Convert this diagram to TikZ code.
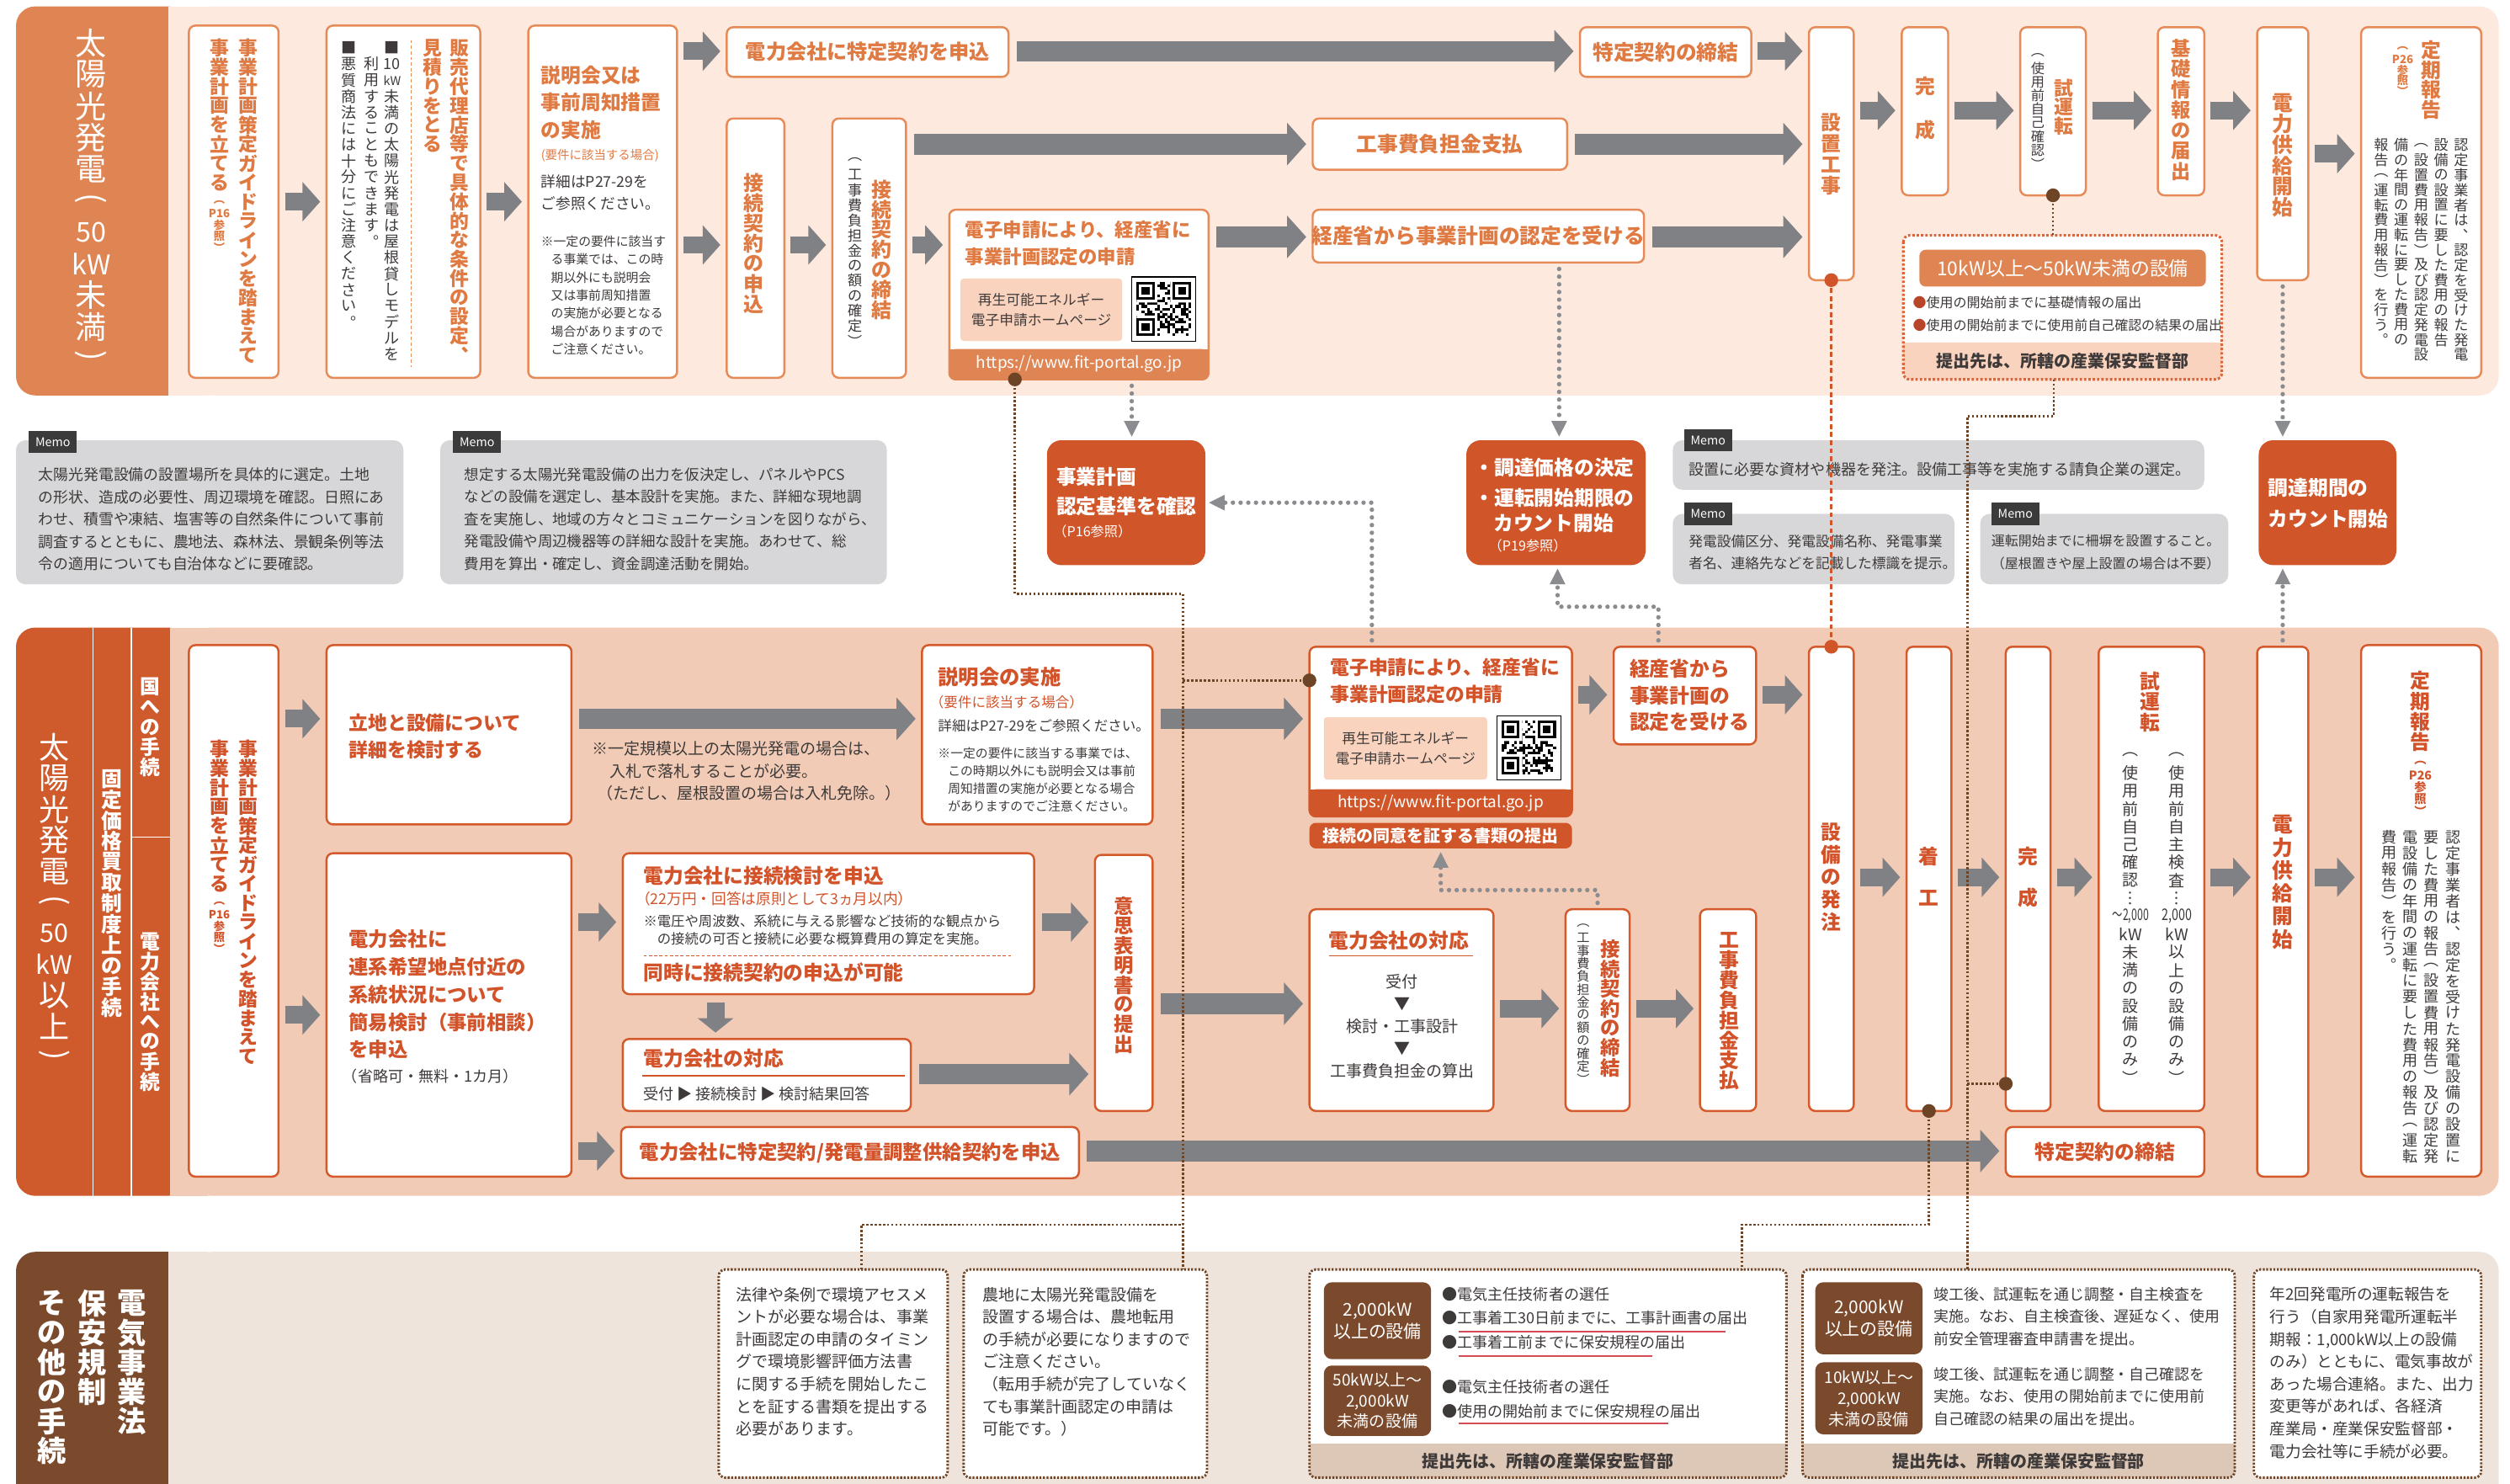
\documentclass[tikz,border=0pt]{standalone}
\usepackage{fontspec}
\usepackage{graphicx}
\setmainfont{Noto Sans CJK JP}
\usetikzlibrary{arrows.meta}
\definecolor{hA}{HTML}{DF8554}
\definecolor{bgA}{HTML}{FDE9DE}
\definecolor{lnA}{HTML}{E68B58}
\definecolor{txA}{HTML}{E07A43}
\definecolor{hB}{HTML}{CF5A2C}
\definecolor{bgB}{HTML}{F2CBB6}
\definecolor{lnB}{HTML}{D45A2B}
\definecolor{txB}{HTML}{D2532A}
\definecolor{hC}{HTML}{7B4A2C}
\definecolor{bgC}{HTML}{EFE4DB}
\definecolor{stC}{HTML}{DDC7B7}
\definecolor{gar}{HTML}{808185}
\definecolor{gdc}{HTML}{8B8C90}
\definecolor{memo}{HTML}{D7D7D9}
\definecolor{memotag}{HTML}{3C3B3B}
\definecolor{tg}{HTML}{3E3A39}
\definecolor{red1}{HTML}{D0562A}
\definecolor{pinkA}{HTML}{FAD3BF}
\definecolor{brn}{HTML}{6E4426}
\definecolor{ulc}{HTML}{D44A55}
\definecolor{bul}{HTML}{B8452A}
\definecolor{adc}{HTML}{D9673A}
\makeatletter
\newdimen\vt@p
\def\vt@endmark{\vt@end}
\newcommand\vt[2][1]{\vt@p=#1em\relax\vtop{\offinterlineskip\vt@loop#2\vt@end}}
\def\vt@loop#1{\def\vt@arg{#1}\ifx\vt@arg\vt@endmark\else\vt@item{#1}\expandafter\vt@loop\fi}
\def\vt@item#1{\hbox to 1em{\hss\vbox to \vt@p{\vss\hbox{#1}\vss}\hss}}
\makeatother
\newcommand\fz[2]{\fontsize{#1}{#2}\selectfont}
\newcommand\rp[1]{\rotatebox[origin=c]{-90}{#1}}
\newcommand\BX[6]{\node[#2,anchor=north west,minimum width={#5-#3},minimum height={#6-#4}] (#1) at (#3,#4) {};}
\newcommand\QR[4]{%
  \node[draw=black,line width=.6pt,fill=white,minimum width=40,minimum height=40,anchor=north west] (#1) at (#2,#3) {};
  \begin{scope}[shift={(#2+3,#3+3)},x=1.619pt,y=-1.619pt]
    \pgfmathsetseed{#4}
    \foreach \i in {0,...,20}{\foreach \j in {0,...,20}{%
      \pgfmathrandominteger{\qrr}{0}{1}%
      \ifnum\qrr=1 \fill (\i,\j) rectangle ++(1,1);\fi}}
    \fill[white] (0,0) rectangle (8,8) (13,0) rectangle (21,8) (0,13) rectangle (8,21);
    \foreach \a/\b in {0/0,14/0,0/14}{%
      \fill (\a,\b) rectangle ++(7,7);
      \fill[white] (\a+1,\b+1) rectangle ++(5,5);
      \fill (\a+2,\b+2) rectangle ++(3,3);}
  \end{scope}}
\tikzset{
  every node/.style={inner sep=0pt,outer sep=0pt},
  vn/.style={anchor=north},
  tl/.style={anchor=north west,align=left},
  bxA/.style={draw=lnA,fill=white,line width=1.3pt,rounded corners=4pt},
  bxB/.style={draw=lnB,fill=white,line width=1.3pt,rounded corners=4pt},
  rbx/.style={fill=red1,rounded corners=9pt},
  stripe/.style={fill=red1,rounded corners=4pt},
  memobx/.style={fill=memo,rounded corners=6pt},
  tagbx/.style={fill=memotag,text=white,font=\fz{7.5}{8},minimum width=30,minimum height=14,anchor=north west},
  pinkbx/.style={fill=pinkA,rounded corners=2pt},
  whitebx/.style={fill=white,rounded corners=4pt},
  lab/.style={fill=hC,rounded corners=5pt},
  hdr/.style={fill=hA,rounded corners=4pt},
  garr/.style={draw=gar,line width=11pt,-{Triangle[length=11pt,width=24pt]},shorten <=4pt,shorten >=4pt},
  gbar/.style={draw=gar,line width=13pt,-{Triangle[length=12pt,width=26pt]},shorten <=5pt,shorten >=4pt},
  gdot/.style={draw=gdc,line width=2.8pt,line cap=round,dash pattern=on 0pt off 4.8pt},
  gdarr/.style={gdot,-{Triangle[length=10pt,width=9pt]},shorten <=4pt,shorten >=2pt},
  brdot/.style={draw=brn,line width=1.4pt,dash pattern=on 1.3pt off 1.3pt},
  ordash/.style={draw=red1,line width=1.5pt,dash pattern=on 3pt off 2pt},
  cdash/.style={draw=brn,line width=1.5pt,dash pattern=on 1.2pt off 1pt,rounded corners=4pt},
  adash/.style={draw=adc,line width=1.6pt,dash pattern=on 1.5pt off 1.2pt,rounded corners=4pt},
}
\begin{document}
\begin{tikzpicture}[x=1pt,y=-1pt]
\useasboundingbox (0,0) rectangle (1568,927);
% ================= bands
\fill[hA,rounded corners=12pt] (10,4) rectangle (117,247);
\fill[bgA] (105,4) rectangle (130,247);
\fill[bgA,rounded corners=12pt] (120,4) rectangle (1561,247);
\fill[hB,rounded corners=12pt] (10,392) rectangle (117,747);
\fill[bgB] (106,392) rectangle (130,747);
\fill[bgB,rounded corners=12pt] (120,392) rectangle (1561,747);
\draw[white,line width=.8pt] (58,392)--(58,747) (82,392)--(82,747) (82,523)--(106,523);
\fill[hC,rounded corners=12pt] (10,782) rectangle (117,960);
\fill[bgC] (105,782) rectangle (130,960);
\fill[bgC,rounded corners=12pt] (120,782) rectangle (1561,960);
% header texts
\node[vn,text=white,font=\fz{19.5}{19.5}] (hAt) at (57,17) {\vt[1.01]{太陽光発電{\rp{(}}{\fz{17}{17}50}{\fz{17}{17}kW}未満{\rp{)}}}};
\node[vn,text=white,font=\fz{19}{19}] (hBt) at (34,457) {\vt[1.02]{太陽光発電{\rp{(}}{\fz{16}{16}50}{\fz{16}{16}kW}以上{\rp{)}}}};
\node[vn,text=white,font=\bfseries\fz{13}{13}] (hBt2) at (70,480) {\vt{固定価格買取制度上の手続}};
\node[vn,text=white,font=\bfseries\fz{12.5}{12.5}] (hBt3) at (94,423) {\vt{国への手続}};
\node[vn,text=white,font=\bfseries\fz{12.5}{12.5}] (hBt4) at (94,582) {\vt{電力会社への手続}};
\node[vn,text=white,font=\bfseries\fz{18}{18}] (hCt1) at (82.5,805) {\vt[1.02]{電気事業法}};
\node[vn,text=white,font=\bfseries\fz{18}{18}] (hCt2) at (57.5,805) {\vt[1.02]{保安規制}};
\node[vn,text=white,font=\bfseries\fz{18}{18}] (hCt3) at (32.5,805) {\vt[1.02]{その他の手続}};
% ================= band A boxes
\BX{A1}{bxA}{118}{16}{174}{236}
\node[vn,text=txA,font=\bfseries\fz{12}{12}] (A1a) at (155,24) {\vt{事業計画策定ガイドラインを踏まえて}};
\node[vn,text=txA,font=\bfseries\fz{12}{12}] (A1b) at (137,24) {\vt{事業計画を立てる}};
\node[vn,text=txA,font=\bfseries\fz{7}{7}] (A1c) at (137,123) {\vt{︵{P16}参照︶}};
\BX{A2}{bxA}{204}{16}{300}{236}
\node[vn,text=txA,font=\bfseries\fz{12}{12}] (A2a) at (287,24) {\vt{販売代理店等で具体的な条件の設定︑}};
\node[vn,text=txA,font=\bfseries\fz{12}{12}] (A2b) at (270,24) {\vt{見積りをとる}};
\draw[lnA,line width=.6pt,dash pattern=on 2pt off 1.5pt] (257,25)--(257,229);
\node[vn,text=tg,font=\fz{9.5}{9.5}] (A2c) at (245,25) {\vt[1.06]{■{10}{\scalebox{.8}{kW}}未満の太陽光発電は屋根貸しモデルを}};
\node[vn,text=tg,font=\fz{9.5}{9.5}] (A2d) at (232,35) {\vt[1.06]{利用することもできます︒}};
\node[vn,text=tg,font=\fz{9.5}{9.5}] (A2e) at (218,25) {\vt[1.06]{■悪質商法には十分にご注意ください︒}};
\BX{A3}{bxA}{330}{16}{423}{236}
\node[tl,text=txA,font=\bfseries\fz{12.5}{17}] (A3a) at (338,41) {説明会又は\\事前周知措置\\の実施};
\node[tl,text=txA,font=\fz{7.6}{9}] (A3b) at (338,93) {(要件に該当する場合)};
\node[tl,text=tg,font=\fz{9.3}{14}] (A3c) at (338,109) {詳細はP27-29を\\ご参照ください。};
\node[tl,text=tg,font=\fz{7.8}{11.3}] (A3d) at (338,147) {※一定の要件に該当す\\\hspace*{.8em}る事業では、この時\\\hspace*{.8em}期以外にも説明会\\\hspace*{.8em}又は事前周知措置\\\hspace*{.8em}の実施が必要となる\\\hspace*{.8em}場合がありますので\\\hspace*{.8em}ご注意ください。};
\BX{A4}{bxA}{454}{17}{630}{48}
\node[text=txA,font=\bfseries\fz{12.7}{13}] (A4t) at (A4.center) {電力会社に特定契約を申込};
\BX{A5}{bxA}{454}{74}{490}{236}
\node[vn,text=txA,font=\bfseries\fz{12.6}{12.6}] (A5t) at (471,108) {\vt{接続契約の申込}};
\BX{A7}{bxA}{520}{74}{566}{236}
\node[vn,text=txA,font=\bfseries\fz{12.6}{12.6}] (A7a) at (551,112) {\vt{接続契約の締結}};
\node[vn,text=tg,font=\fz{9}{9}] (A7b) at (534,95) {\vt[1.05]{︵工事費負担金の額の確定︶}};
\BX{A8}{bxA}{820}{74}{979}{106}
\node[text=txA,font=\bfseries\fz{13}{13}] (A8t) at (A8.center) {工事費負担金支払};
\BX{A9}{bxA}{593}{131}{755}{237}
\fill[hA,rounded corners=4pt] (593,218) rectangle (755,237.5);
\fill[hA] (593,218) rectangle (755,226);
\node[text=white,font=\fz{10}{10}] (A9u) at (674,227.5) {https://www.fit-portal.go.jp};
\node[tl,text=txA,font=\bfseries\fz{11.8}{17}] (A9a) at (603,138) {電子申請により、経産省に\\事業計画認定の申請};
\BX{A9p}{pinkbx}{600}{174}{701}{213}
\node[text=tg,font=\fz{8.8}{13},align=center] (A9pt) at (A9p.center) {再生可能エネルギー\\電子申請ホームページ};
\QR{A9q}{707}{173}{3}
\BX{A11}{bxA}{820}{131}{1027}{164}
\node[text=txA,font=\bfseries\fz{13}{13}] (A11t) at (A11.center) {経産省から事業計画の認定を受ける};
\BX{A6}{bxA}{987}{17}{1094}{48}
\node[text=txA,font=\bfseries\fz{13}{13}] (A6t) at (A6.center) {特定契約の締結};
\BX{A10}{bxA}{1130}{17}{1158}{175}
\node[vn,text=txA,font=\bfseries\fz{12.5}{12.5}] (A10t) at (1144,70) {\vt[1.05]{設置工事}};
\BX{A12}{bxA}{1188}{17}{1217}{122}
\node[vn,text=txA,font=\bfseries\fz{12.5}{12.5}] (A12t) at (1202.5,40.5) {\vt[2.16]{完成}};
\BX{A13}{bxA}{1262}{17}{1303}{122}
\node[vn,text=txA,font=\bfseries\fz{12}{12}] (A13a) at (1289,49) {\vt{試運転}};
\node[vn,text=tg,font=\fz{8.5}{8.5}] (A13b) at (1273,30) {\vt{︵使用前自己確認︶}};
\BX{A14}{bxA}{1348}{17}{1377}{122}
\node[vn,text=txA,font=\bfseries\fz{12.2}{12.2}] (A14t) at (1362.5,24) {\vt[1.05]{基礎情報の届出}};
\BX{A15}{bxA}{1410}{17}{1442}{175}
\node[vn,text=txA,font=\bfseries\fz{13}{13}] (A15t) at (1426,58) {\vt{電力供給開始}};
\BX{A16}{bxA}{1475}{17}{1550}{236}
\node[vn,text=txA,font=\bfseries\fz{12.5}{12.5}] (A16a) at (1519,25) {\vt{定期報告}};
\node[vn,text=txA,font=\bfseries\fz{7}{7}] (A16b) at (1501,27) {\vt[0.95]{︵{P26}参照︶}};
\node[anchor=north east,text=tg,font=\fz{9}{9}] (A16d) at (1542,86) {\hbox{\vt[1.04]{報告︵運転費用報告︶を行う︒}\hskip3.5pt\vt[1.04]{備の年間の運転に要した費用の}\hskip3.5pt\vt[1.04]{︵設置費用報告︶及び認定発電設}\hskip3.5pt\vt[1.04]{設備の設置に要した費用の報告}\hskip3.5pt\vt[1.04]{認定事業者は︑認定を受けた発電}}};
% dotted info box
\BX{AD}{whitebx}{1189}{147}{1388}{237}
\fill[pinkA,rounded corners=4pt] (1189,214) rectangle (1388,237);
\fill[pinkA] (1189,214) rectangle (1388,222);
\BX{ADh}{hdr}{1199}{156}{1378}{179}
\node[text=white,font=\fz{12}{12}] (ADht) at (ADh.center) {10kW以上～50kW未満の設備};
\node[tl,text=tg,font=\fz{8.4}{14.5}] (ADb) at (1195,185) {{\color{bul}●}使用の開始前までに基礎情報の届出\\{\color{bul}●}使用の開始前までに使用前自己確認の結果の届出};
\node[text=tg,font=\bfseries\fz{10.5}{10.5}] (ADs) at (1288.5,225.5) {提出先は、所轄の産業保安監督部};
\draw[adash] (AD.north west) rectangle (AD.south east);
% ================= memo row
\BX{M1}{memobx}{10}{275}{252}{365}
\node[tagbx] (M1t) at (18,269) {Memo};
\node[tl,text=tg,font=\fz{9.4}{14}] (M1x) at (24,292) {太陽光発電設備の設置場所を具体的に選定。土地\\の形状、造成の必要性、周辺環境を確認。日照にあ\\わせ、積雪や凍結、塩害等の自然条件について事前\\調査するとともに、農地法、森林法、景観条例等法\\令の適用についても自治体などに要確認。};
\BX{M2}{memobx}{275}{275}{554}{365}
\node[tagbx] (M2t) at (283,269) {Memo};
\node[tl,text=tg,font=\fz{9.2}{14}] (M2x) at (290,292) {想定する太陽光発電設備の出力を仮決定し、パネルやPCS\\などの設備を選定し、基本設計を実施。また、詳細な現地調\\査を実施し、地域の方々とコミュニケーションを図りながら、\\発電設備や周辺機器等の詳細な設計を実施。あわせて、総\\費用を算出・確定し、資金調達活動を開始。};
\BX{M3}{memobx}{1045}{275}{1377}{306}
\node[tagbx] (M3t) at (1052,268) {Memo};
\node[tl,text=tg,font=\fz{9.5}{14}] (M3x) at (1055,289) {設置に必要な資材や機器を発注。設備工事等を実施する請負企業の選定。};
\BX{M4}{memobx}{1045}{321}{1221}{365}
\node[tagbx] (M4t) at (1052,314) {Memo};
\node[tl,text=tg,font=\fz{8.8}{14}] (M4x) at (1055,334) {発電設備区分、発電設備名称、発電事業\\者名、連絡先などを記載した標識を提示。};
\BX{M5}{memobx}{1237}{321}{1392}{365}
\node[tagbx] (M5t) at (1244,314) {Memo};
\node[tl,text=tg,font=\fz{8.4}{14}] (M5x) at (1244,334) {運転開始までに柵塀を設置すること。\\（屋根置きや屋上設置の場合は不要）};
% red boxes
\BX{R1}{rbx}{654}{275}{753}{353}
\node[tl,text=white,font=\bfseries\fz{12.5}{13}] (R1a) at (660,292) {事業計画};
\node[tl,text=white,font=\bfseries\fz{12.5}{13}] (R1b) at (660,310) {認定基準を確認};
\node[tl,text=white,font=\fz{8.5}{9}] (R1c) at (658,328) {（P16参照）};
\BX{R2}{rbx}{916}{275}{1028}{353}
\node[tl,text=white,font=\bfseries\fz{12.5}{13}] (R2a) at (921,286) {・調達価格の決定};
\node[tl,text=white,font=\bfseries\fz{12.5}{13}] (R2b) at (921,305) {・運転開始期限の};
\node[tl,text=white,font=\bfseries\fz{12.5}{13}] (R2c) at (933,321) {カウント開始};
\node[tl,text=white,font=\fz{8.5}{9}] (R2d) at (930,337) {（P19参照）};
\BX{R3}{rbx}{1411}{275}{1497}{353}
\node[tl,text=white,font=\bfseries\fz{12.5}{13}] (R3a) at (1417,299) {調達期間の};
\node[tl,text=white,font=\bfseries\fz{12.5}{13}] (R3b) at (1417,318) {カウント開始};
% ================= band B boxes
\BX{B1}{bxB}{118}{403}{174}{735}
\node[vn,text=txB,font=\bfseries\fz{12}{12}] (B1a) at (155,462) {\vt{事業計画策定ガイドラインを踏まえて}};
\node[vn,text=txB,font=\bfseries\fz{12}{12}] (B1b) at (137,462) {\vt{事業計画を立てる}};
\node[vn,text=txB,font=\bfseries\fz{7}{7}] (B1c) at (137,561) {\vt{︵{P16}参照︶}};
\BX{B2}{bxB}{204}{403}{357}{515}
\node[tl,text=txB,font=\bfseries\fz{12}{16.5}] (B2t) at (218,446) {立地と設備について\\詳細を検討する};
\BX{B3}{bxB}{204}{533}{357}{735}
\node[tl,text=txB,font=\bfseries\fz{12.3}{17.2}] (B3t) at (218,581) {電力会社に\\連系希望地点付近の\\系統状況について\\簡易検討（事前相談）\\を申込};
\node[tl,text=tg,font=\fz{9.5}{10}] (B3s) at (214,668) {（省略可・無料・1カ月）};
\node[tl,text=tg,font=\fz{10}{14}] (Bnote) at (370,463) {※一定規模以上の太陽光発電の場合は、\\\hspace*{1.1em}入札で落札することが必要。\\\hspace*{.3em}（ただし、屋根設置の場合は入札免除。）};
\BX{B4}{bxB}{576}{403}{720}{515}
\node[tl,text=txB,font=\bfseries\fz{12.8}{13}] (B4a) at (586,417) {説明会の実施};
\node[tl,text=txB,font=\fz{8.7}{9}] (B4b) at (581,434.5) {（要件に該当する場合）};
\node[tl,text=tg,font=\fz{8.7}{9}] (B4c) at (586,449.5) {詳細はP27-29をご参照ください。};
\node[tl,text=tg,font=\fz{7.8}{11}] (B4d) at (586,467) {※一定の要件に該当する事業では、\\\hspace*{.8em}この時期以外にも説明会又は事前\\\hspace*{.8em}周知措置の実施が必要となる場合\\\hspace*{.8em}がありますのでご注意ください。};
\BX{B5}{bxB}{818}{404}{982}{510}
\fill[red1,rounded corners=4pt] (818,493) rectangle (982,510.5);
\fill[red1] (818,493) rectangle (982,500);
\node[text=white,font=\fz{10}{10}] (B5u) at (900,501.5) {https://www.fit-portal.go.jp};
\node[tl,text=txB,font=\bfseries\fz{12}{17}] (B5a) at (831,411) {電子申請により、経産省に\\事業計画認定の申請};
\BX{B5p}{pinkbx}{827}{448}{929}{487}
\node[text=tg,font=\fz{8.8}{13},align=center] (B5pt) at (B5p.center) {再生可能エネルギー\\電子申請ホームページ};
\QR{B5q}{935}{447}{11}
\BX{B5s}{stripe}{818}{514}{982}{530}
\node[text=white,font=\bfseries\fz{10.5}{10.5}] (B5st) at (B5s.center) {接続の同意を証する書類の提出};
\BX{B6}{bxB}{1008}{404}{1097}{465}
\node[tl,text=txB,font=\bfseries\fz{12.5}{16.5}] (B6t) at (1018,412) {経産省から\\事業計画の\\認定を受ける};
\BX{B7}{bxB}{1130}{404}{1158}{694}
\node[vn,text=txB,font=\bfseries\fz{12.5}{12.5}] (B7t) at (1144,513) {\vt[1.12]{設備の発注}};
\BX{B8}{bxB}{1191}{404}{1219}{694}
\node[vn,text=txB,font=\bfseries\fz{12.5}{12.5}] (B8t) at (1205,522) {\vt[2.08]{着工}};
\BX{B9}{bxB}{1253}{404}{1281}{694}
\node[vn,text=txB,font=\bfseries\fz{12.5}{12.5}] (B9t) at (1267,522) {\vt[2.08]{完成}};
\BX{B10}{bxB}{1311}{404}{1377}{694}
\node[vn,text=txB,font=\bfseries\fz{12.5}{12.5}] (B10a) at (1343,419) {\vt[1.04]{試運転}};
\node[vn,text=tg,font=\fz{10}{10}] (B10b) at (1360,466) {\vt[1.12]{︵使用前自主検査︙{\scalebox{.75}[1]{2,000}}{kW}以上の設備のみ︶}};
\node[vn,text=tg,font=\fz{10}{10}] (B10c) at (1331,466) {\vt[1.12]{︵使用前自己確認︙{\scalebox{.65}[1]{～2,000}}{kW}未満の設備のみ︶}};
\BX{B11}{bxB}{1410}{404}{1442}{735}
\node[vn,text=txB,font=\bfseries\fz{13}{13}] (B11t) at (1426,508) {\vt[1.1]{電力供給開始}};
\BX{B12}{bxB}{1475}{403}{1550}{735}
\node[vn,text=txB,font=\bfseries\fz{12.5}{12.5}] (B12a) at (1512,419) {\vt[1.02]{定期報告}};
\node[vn,text=txB,font=\bfseries\fz{7.5}{7.5}] (B12b) at (1512,473) {\vt{︵{P26}参照︶}};
\node[anchor=north east,text=tg,font=\fz{9.5}{9.5}] (B12d) at (1537,518) {\hbox{\vt[1.05]{費用報告︶を行う︒}\hskip3.8pt\vt[1.05]{電設備の年間の運転に要した費用の報告︵運転}\hskip3.8pt\vt[1.05]{要した費用の報告︵設置費用報告︶及び認定発}\hskip3.8pt\vt[1.05]{認定事業者は︑認定を受けた発電設備の設置に}}};
\BX{B13}{bxB}{1253}{704}{1377}{735}
\node[text=txB,font=\bfseries\fz{12.5}{13}] (B13t) at (B13.center) {特定契約の締結};
\BX{B14}{bxB}{389}{533}{646}{621}
\node[tl,text=txB,font=\bfseries\fz{12.5}{13}] (B14a) at (402,541) {電力会社に接続検討を申込};
\node[tl,text=txB,font=\fz{9.3}{10}] (B14b) at (397,557) {（22万円・回答は原則として3ヵ月以内）};
\node[tl,text=tg,font=\fz{8.6}{11}] (B14c) at (402,571.5) {※電圧や周波数、系統に与える影響など技術的な観点から\\\hspace*{1em}の接続の可否と接続に必要な概算費用の算定を実施。};
\draw[red1,line width=.6pt,dash pattern=on 2pt off 1.3pt] (402,597)--(632,597);
\node[tl,text=txB,font=\bfseries\fz{12.5}{13}] (B14d) at (402,601.5) {同時に接続契約の申込が可能};
\BX{B15}{bxB}{389}{649}{569}{694}
\node[tl,text=txB,font=\bfseries\fz{12.5}{13}] (B15a) at (402,655.5) {電力会社の対応};
\draw[red1,line width=.8pt] (401,672)--(565,672);
\node[tl,text=tg,font=\fz{9.5}{10}] (B15b) at (402,679) {受付 ▶ 接続検討 ▶ 検討結果回答};
\BX{B16}{bxB}{684}{534}{720}{694}
\node[vn,text=txB,font=\bfseries\fz{12.3}{12.3}] (B16t) at (702,560) {\vt{意思表明書の提出}};
\BX{B17}{bxB}{818}{568}{933}{694}
\node[tl,text=txB,font=\bfseries\fz{12.5}{13}] (B17a) at (830,581.5) {電力会社の対応};
\draw[red1,line width=.8pt] (830,597)--(920,597);
\node[text=tg,font=\fz{10}{14},align=center] (B17b) at (876,641) {受付\\▼\\検討・工事設計\\▼\\工事費負担金の算出};
\BX{B18}{bxB}{978}{568}{1018}{694}
\node[vn,text=txB,font=\bfseries\fz{12.3}{12.3}] (B18a) at (1006,587) {\vt{接続契約の締結}};
\node[vn,text=tg,font=\fz{8}{8}] (B18b) at (989,574) {\vt{︵工事費負担金の額の確定︶}};
\BX{B19}{bxB}{1062}{568}{1097}{694}
\node[vn,text=txB,font=\bfseries\fz{12.5}{12.5}] (B19t) at (1080,581) {\vt{工事費負担金支払}};
\BX{B20}{bxB}{388}{704}{674}{736}
\node[text=txB,font=\bfseries\fz{12.3}{13}] (B20t) at (B20.center) {電力会社に特定契約/発電量調整供給契約を申込};
% ================= band C boxes
\BX{Ca}{whitebx}{449}{793}{592}{923}
\node[tl,text=tg,font=\fz{10}{14}] (Cat) at (460,804) {法律や条例で環境アセスメ\\ントが必要な場合は、事業\\計画認定の申請のタイミン\\グで環境影響評価方法書\\に関する手続を開始したこ\\とを証する書類を提出する\\必要があります。};
\draw[cdash] (Ca.north west) rectangle (Ca.south east);
\BX{Cb}{whitebx}{602}{793}{754}{923}
\node[tl,text=tg,font=\fz{10}{14}] (Cbt) at (614,804) {農地に太陽光発電設備を\\設置する場合は、農地転用\\の手続が必要になりますので\\ご注意ください。\\（転用手続が完了していなく\\ても事業計画認定の申請は\\可能です。）};
\draw[cdash] (Cb.north west) rectangle (Cb.south east);
\BX{Cc}{whitebx}{818}{793}{1116}{923}
\fill[stC,rounded corners=4pt] (818,902) rectangle (1116,923);
\fill[stC] (818,902) rectangle (1116,910);
\BX{Cc1}{lab}{827}{801}{894}{849}
\node[text=white,font=\fz{11}{14},align=center] (Cc1t) at (Cc1.center) {2,000kW\\以上の設備};
\BX{Cc2}{lab}{827}{853}{894}{897}
\node[text=white,font=\fz{10}{13},align=center] (Cc2t) at (Cc2.center) {50kW以上～\\2,000kW\\未満の設備};
\node[tl,text=tg,font=\fz{9.5}{15}] (Cc3) at (901,804) {●電気主任技術者の選任\\●工事着工30日前までに、工事計画書の届出\\●工事着工前までに保安規程の届出};
\draw[ulc,line width=1.1pt] (911,832)--(1078,832) (911,847)--(1032,847);
\node[tl,text=tg,font=\fz{9.5}{15}] (Cc4) at (901,862) {●電気主任技術者の選任\\●使用の開始前までに保安規程の届出};
\draw[ulc,line width=1.1pt] (911,889)--(1042,889);
\node[text=tg,font=\bfseries\fz{10.5}{10.5}] (Cc5) at (967,913) {提出先は、所轄の産業保安監督部};
\draw[cdash] (Cc.north west) rectangle (Cc.south east);
\BX{Cd}{whitebx}{1126}{793}{1396}{923}
\fill[stC,rounded corners=4pt] (1126,902) rectangle (1396,923);
\fill[stC] (1126,902) rectangle (1396,910);
\BX{Cd1}{lab}{1134}{801}{1201}{846}
\node[text=white,font=\fz{11}{14},align=center] (Cd1t) at (Cd1.center) {2,000kW\\以上の設備};
\BX{Cd2}{lab}{1134}{851}{1201}{896}
\node[text=white,font=\fz{10}{13},align=center] (Cd2t) at (Cd2.center) {10kW以上～\\2,000kW\\未満の設備};
\node[tl,text=tg,font=\fz{9.4}{14}] (Cd3) at (1208,804) {竣工後、試運転を通じ調整・自主検査を\\実施。なお、自主検査後、遅延なく、使用\\前安全管理審査申請書を提出。};
\node[tl,text=tg,font=\fz{9.4}{14}] (Cd4) at (1208,854) {竣工後、試運転を通じ調整・自己確認を\\実施。なお、使用の開始前までに使用前\\自己確認の結果の届出を提出。};
\node[text=tg,font=\bfseries\fz{10.5}{10.5}] (Cd5) at (1261,913) {提出先は、所轄の産業保安監督部};
\draw[cdash] (Cd.north west) rectangle (Cd.south east);
\BX{Ce}{whitebx}{1408}{793}{1550}{923}
\node[tl,text=tg,font=\fz{9.8}{14}] (Cet) at (1418,804) {年2回発電所の運転報告を\\行う（自家用発電所運転半\\期報：1,000kW以上の設備\\のみ）とともに、電気事故が\\あった場合連絡。また、出力\\変更等があれば、各経済\\産業局・産業保安監督部・\\電力会社等に手続が必要。};
\draw[cdash] (Ce.north west) rectangle (Ce.south east);
% ================= gray block arrows, band A
\draw[garr] (A1.east |- 0,126) -- (A2.west |- 0,126);
\draw[garr] (A2.east |- 0,126) -- (A3.west |- 0,126);
\draw[garr] (A3.east |- 0,32) -- (A4.west |- 0,32);
\draw[garr] (A3.east |- 0,153) -- (A5.west |- 0,153);
\draw[gbar] (A4.east |- 0,32) -- (A6.west |- 0,32);
\draw[garr] (A5.east |- 0,153) -- (A7.west |- 0,153);
\draw[gbar] (A7.east |- 0,90) -- (A8.west |- 0,90);
\draw[garr] (A7.east |- 0,153) -- (A9.west |- 0,153);
\draw[gbar] (A8.east |- 0,90) -- (A10.west |- 0,90);
\draw[gbar] (A9.east |- 0,148) -- (A11.west |- 0,148);
\draw[gbar] (A11.east |- 0,148) -- (A10.west |- 0,148);
\draw[garr] (A6.east |- 0,32) -- (A10.west |- 0,32);
\draw[garr] (A10.east |- 0,69) -- (A12.west |- 0,69);
\draw[garr] (A12.east |- 0,69) -- (A13.west |- 0,69);
\draw[garr] (A13.east |- 0,69) -- (A14.west |- 0,69);
\draw[garr] (A14.east |- 0,69) -- (A15.west |- 0,69);
\draw[garr] (A15.east |- 0,96) -- (A16.west |- 0,96);
% band B
\draw[garr] (B1.east |- 0,449) -- (B2.west |- 0,449);
\draw[garr] (B1.east |- 0,634) -- (B3.west |- 0,634);
\draw[gbar] (B2.east |- 0,449) -- (B4.west |- 0,449);
\draw[gbar] (B4.east |- 0,449) -- (B5.west |- 0,449);
\draw[garr] (B5.east |- 0,434) -- (B6.west |- 0,434);
\draw[garr] (B6.east |- 0,434) -- (B7.west |- 0,434);
\draw[garr] (B7.east |- 0,548) -- (B8.west |- 0,548);
\draw[garr] (B8.east |- 0,548) -- (B9.west |- 0,548);
\draw[garr] (B9.east |- 0,548) -- (B10.west |- 0,548);
\draw[garr] (B10.east |- 0,548) -- (B11.west |- 0,548);
\draw[garr] (B11.east |- 0,548) -- (B12.west |- 0,548);
\draw[garr] (B3.east |- 0,576) -- (B14.west |- 0,576);
\draw[garr] (B3.east |- 0,719) -- (B20.west |- 0,719);
\draw[draw=gar,line width=11pt,-{Triangle[length=9pt,width=22pt]},shorten <=5pt,shorten >=4pt] (B14.south -| 447,0) -- (B15.north -| 447,0);
\draw[garr,shorten <=5pt] (B14.east |- 0,576) -- (B16.west |- 0,576);
\draw[gbar] (B15.east |- 0,671) -- (B16.west |- 0,671);
\draw[gbar] (B16.east |- 0,627) -- (B17.west |- 0,627);
\draw[garr] (B17.east |- 0,630) -- (B18.west |- 0,630);
\draw[garr] (B18.east |- 0,630) -- (B19.west |- 0,630);
\draw[gbar] (B20.east |- 0,719) -- (B13.west |- 0,719);
% ================= gray dotted arrows
\draw[gdarr] (A9.south -| 707,0) -- (R1.north -| 707,0);
\draw[gdarr] (A11.south -| 974,0) -- (R2.north -| 974,0);
\draw[gdarr] (A15.south) -- (R3.north -| A15.south);
\draw[gdarr] (B11.north) -- (R3.south -| B11.north);
\draw[gdarr] (B5.north -| 857,0) -- (857,314) -- (R1.east |- 0,314);
\draw[gdarr] (B6.north -| 1036,0) -- (1036,379) -- (973,379) -- (R2.south -| 973,0);
\draw[gdarr] (B18.north -| 998,0) -- (998,556) -- (900,556) -- (B5s.south -| 900,0);
% ================= brown dotted / orange dashed
\draw[brdot] (A9.south -| 634,0) -- (634,371) -- (739,371) -- (Cb.north -| 739,0);
\draw[brdot] (739,425) -- (B5.west |- 0,425);
\draw[brdot] (Ca.north -| 538,0) -- (538,765) -- (739,765);
\draw[brdot] (B8.south) -- (B8.south |- 0,765) -- (1088,765) -- (Cc.north -| 1088,0);
\draw[brdot] (A13.south) -- (AD.north -| A13.south);
\draw[brdot] (AD.south -| 1283,0) -- (1283,260) -- (1229,260) -- (Cd.north -| 1229,0);
\draw[brdot] (1229,677) -- (B9.west |- 0,677);
\draw[ordash] (A10.south) -- (B7.north);
\fill[brn] (A9.south -| 634,0) circle (4.3pt);
\fill[brn] (B5.west |- 0,425) circle (4.3pt);
\fill[brn] (B8.south) circle (4.3pt);
\fill[brn] (B9.west |- 0,677) circle (4.3pt);
\fill[brn] (A13.south) circle (4.3pt);
\fill[red1] (A10.south) circle (4.3pt);
\fill[red1] (B7.north) circle (4.3pt);
\end{tikzpicture}
\end{document}
